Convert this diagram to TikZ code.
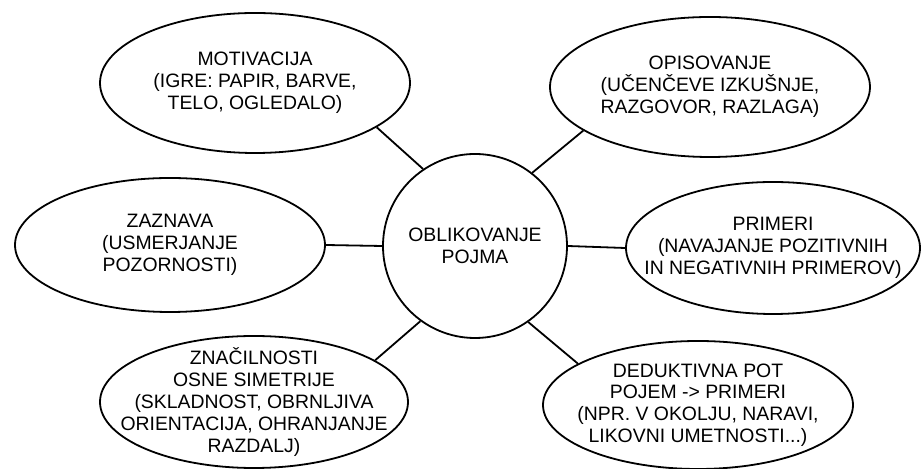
\documentclass[tikz,border=0pt]{standalone}
\usepackage{fontspec}
\setmainfont{Liberation Sans}
\usetikzlibrary{shapes.geometric}

\begin{document}
\begin{tikzpicture}[x=0.5pt, y=-0.5pt,
    idea/.style={draw, ellipse, line width=0.9pt, inner sep=0pt},
    core/.style={draw, circle, line width=0.9pt, inner sep=0pt, minimum size=92pt},
    txt/.style={align=center, font=\fontsize{9.7}{10.9}\selectfont}]
    \useasboundingbox (0,0) rectangle (922,469);

    % central concept
    \node[core, txt] (pojem) at (475,246) {OBLIKOVANJE\\POJMA};

    % surrounding ideas
    \node[idea, minimum width=155pt, minimum height=70pt,
        label={[txt]center:{MOTIVACIJA\\(IGRE: PAPIR, BARVE,\\TELO, OGLEDALO)}}] (motiv) at (255,83) {};
    \node[idea, minimum width=160pt, minimum height=70pt,
        label={[txt]center:{OPISOVANJE\\(UČENČEVE IZKUŠNJE,\\RAZGOVOR, RAZLAGA)}}] (opis) at (710,87) {};
    \node[idea, minimum width=155pt, minimum height=67pt,
        label={[txt]center:{ZAZNAVA\\(USMERJANJE\\POZORNOSTI)}}] (zazn) at (170,245) {};
    \node[idea, minimum width=147pt, minimum height=66pt,
        label={[txt]center:{PRIMERI\\(NAVAJANJE POZITIVNIH\\IN NEGATIVNIH PRIMEROV)}}] (prim) at (773,248) {};
    \node[idea, minimum width=154pt, minimum height=66pt,
        label={[txt]center:{ZNAČILNOSTI\\OSNE SIMETRIJE\\(SKLADNOST, OBRNLJIVA\\ORIENTACIJA, OHRANJANJE\\RAZDALJ)}}] (znac) at (254,402) {};
    \node[idea, minimum width=155pt, minimum height=64pt,
        label={[txt]center:{DEDUKTIVNA POT\\POJEM -> PRIMERI\\(NPR. V OKOLJU, NARAVI,\\LIKOVNI UMETNOSTI...)}}] (dedu) at (698,405) {};

    % spokes
    \foreach \a/\b/\n in {124/-20/motiv, 52/-161/opis, 180/0/zazn, 0/180/prim, -126/19/znac, -55/161/dedu}
    {
    \draw[line width=0.9pt] (pojem.\a) -- (\n.\b);
    }
\end{tikzpicture}
\end{document}
